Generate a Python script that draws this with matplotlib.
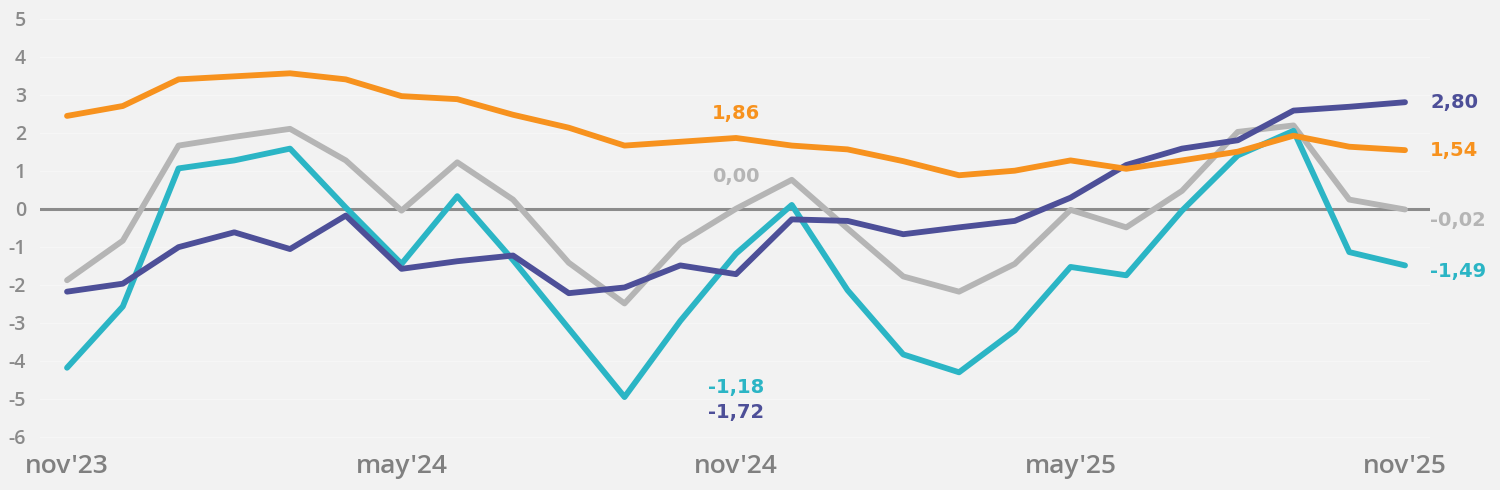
import matplotlib
matplotlib.use("Agg")
import matplotlib.pyplot as plt
import numpy as np

months = ["nov'23", "dic'23", "ene'24", "feb'24", "mar'24", "abr'24", "may'24", "jun'24", "jul'24",
          "ago'24", "sep'24", "oct'24", "nov'24", "dic'24", "ene'25", "feb'25", "mar'25", "abr'25",
          "may'25", "jun'25", "jul'25", "ago'25", "sep'25", "oct'25", "nov'25"]
tick_labels = ["nov'23", "may'24", "nov'24", "may'25", "nov'25"]
tick_idx = [0, 6, 12, 18, 24]

orange = [2.44, 2.70, 3.40, 3.48, 3.56, 3.40, 2.96, 2.88, 2.47, 2.13, 1.66, 1.76, 1.86, 1.66, 1.56,
          1.25, 0.88, 1.00, 1.27, 1.05, 1.27, 1.50, 1.92, 1.63, 1.54]
gray = [-1.88, -0.84, 1.66, 1.89, 2.10, 1.27, -0.05, 1.22, 0.24, -1.42, -2.49, -0.90, 0.00, 0.76,
        -0.52, -1.78, -2.18, -1.45, -0.03, -0.49, 0.47, 2.02, 2.19, 0.24, -0.02]
cyan = [-4.18, -2.57, 1.06, 1.27, 1.58, 0.03, -1.45, 0.33, -1.35, -3.15, -4.95, -2.95, -1.18, 0.10,
        -2.14, -3.83, -4.30, -3.20, -1.53, -1.75, -0.05, 1.40, 2.05, -1.14, -1.49]
navy = [-2.18, -1.97, -1.01, -0.62, -1.06, -0.18, -1.58, -1.38, -1.23, -2.22, -2.07, -1.49, -1.72,
        -0.28, -0.32, -0.67, -0.49, -0.32, 0.29, 1.15, 1.58, 1.80, 2.58, 2.68, 2.80]

C_OR = "#F7921E"
C_GR = "#B5B5B5"
C_CY = "#2BB5C5"
C_NV = "#4D4F98"
BG = "#F2F2F2"

fig = plt.figure(figsize=(15, 4.9), dpi=100, facecolor=BG)
ax = fig.add_axes([0.0267, 0.0849, 0.9267, 0.9006], facecolor=BG)

x = np.arange(len(months))
ax.set_xlim(-0.484, 24.45)
ax.set_ylim(-6.3, 5.3)

for yv in range(-6, 6):
    if yv != 0:
        ax.axhline(yv, color="#F6F6F6", lw=1.0, zorder=0)
ax.axhline(0, color="#8C8C8C", lw=2.2, zorder=1)

lw = 4.2
ax.plot(x, gray, color=C_GR, lw=lw, zorder=2, solid_joinstyle="round", solid_capstyle="round")
ax.plot(x, cyan, color=C_CY, lw=lw, zorder=3, solid_joinstyle="round", solid_capstyle="round")
ax.plot(x, navy, color=C_NV, lw=lw, zorder=4, solid_joinstyle="round", solid_capstyle="round")
ax.plot(x, orange, color=C_OR, lw=lw, zorder=5, solid_joinstyle="round", solid_capstyle="round")

def fmt(v):
    return f"{v:.2f}".replace(".", ",")

lab_font = dict(fontsize=14, fontweight="bold", family="DejaVu Sans")
# end labels
ax.text(24.45, navy[-1], fmt(navy[-1]), color=C_NV, ha="left", va="center", clip_on=False, **lab_font)
ax.text(24.45, orange[-1], fmt(orange[-1]), color=C_OR, ha="left", va="center", clip_on=False, **lab_font)
ax.text(24.45, gray[-1] - 0.3, fmt(gray[-1]), color=C_GR, ha="left", va="center", clip_on=False, **lab_font)
ax.text(24.45, cyan[-1] - 0.15, fmt(cyan[-1]), color=C_CY, ha="left", va="center", clip_on=False, **lab_font)
# middle labels (nov'24)
ax.text(12, orange[12] + 0.65, fmt(orange[12]), color=C_OR, ha="center", va="center", **lab_font)
ax.text(12, gray[12] + 0.85, fmt(gray[12]), color=C_GR, ha="center", va="center", **lab_font)
ax.text(12, -4.7, fmt(cyan[12]), color=C_CY, ha="center", va="center", **lab_font)
ax.text(12, -5.35, fmt(navy[12]), color=C_NV, ha="center", va="center", **lab_font)

ax.set_xticks(tick_idx)
ax.set_xticklabels(tick_labels, fontsize=19, color="#808080", family="Open Sans", fontweight="semibold")
ax.set_yticks(range(-6, 6))
ax.set_yticklabels([str(v) for v in range(-6, 6)], fontsize=14, color="#8A8A8A",
                   family="Open Sans", fontweight="semibold")
ax.tick_params(axis="both", length=0)
ax.tick_params(axis="y", pad=10)
ax.tick_params(axis="x", pad=4)
for s in ax.spines.values():
    s.set_visible(False)

fig.savefig("out.png", dpi=100, facecolor=BG)
